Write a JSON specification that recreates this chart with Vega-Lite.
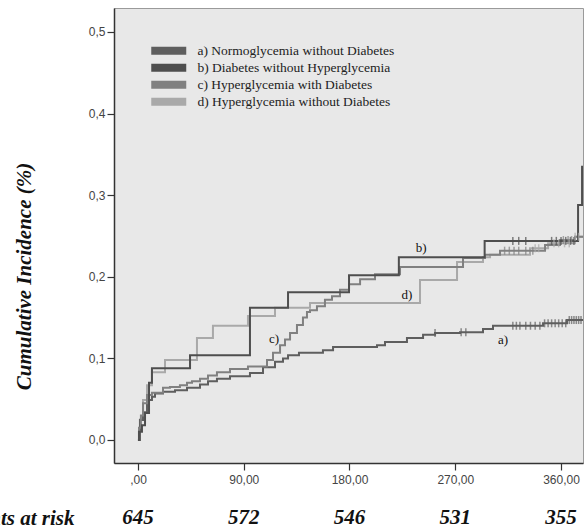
{
  "$schema": "https://vega.github.io/schema/vega-lite/v6.json",
  "autosize": "none",
  "width": 469,
  "height": 455,
  "padding": {"left": 114, "top": 8, "right": 1, "bottom": 67},
  "background": "white",
  "config": {
    "view": {"fill": "#e8e8e8", "stroke": "#9a9a9a", "strokeWidth": 1},
    "axis": {
      "labelFont": "Liberation Sans",
      "labelFontSize": 12,
      "labelColor": "#444444",
      "tickColor": "#333333",
      "domainColor": "#333333",
      "domainWidth": 1.5,
      "tickWidth": 1.2,
      "grid": false
    }
  },
  "datasets": {
    "groups": [
      {"g": "a", "group": "a) Normoglycemia without Diabetes"},
      {"g": "b", "group": "b) Diabetes without Hyperglycemia"},
      {"g": "c", "group": "c) Hyperglycemia with Diabetes"},
      {"g": "d", "group": "d) Hyperglycemia without Diabetes"}
    ],
    "curves": [
      {"g": "d", "day": 0, "p": 0}, {"g": "d", "day": 1.7, "p": 0.025}, {"g": "d", "day": 4.3, "p": 0.049}, {"g": "d", "day": 7.7, "p": 0.067}, {"g": "d", "day": 11.9, "p": 0.083}, {"g": "d", "day": 23, "p": 0.098}, {"g": "d", "day": 50.2, "p": 0.125}, {"g": "d", "day": 63.8, "p": 0.14}, {"g": "d", "day": 93.6, "p": 0.152}, {"g": "d", "day": 116.6, "p": 0.162}, {"g": "d", "day": 146.4, "p": 0.168}, {"g": "d", "day": 240, "p": 0.196}, {"g": "d", "day": 271.5, "p": 0.218}, {"g": "d", "day": 293.6, "p": 0.224}, {"g": "d", "day": 299.6, "p": 0.227}, {"g": "d", "day": 333.6, "p": 0.235}, {"g": "d", "day": 349, "p": 0.241}, {"g": "d", "day": 371.9, "p": 0.249}, {"g": "d", "day": 378.7, "p": 0.25},
      {"g": "a", "day": 0, "p": 0}, {"g": "a", "day": 1.7, "p": 0.0245}, {"g": "a", "day": 4.3, "p": 0.034}, {"g": "a", "day": 7.7, "p": 0.049}, {"g": "a", "day": 11.9, "p": 0.053}, {"g": "a", "day": 14.5, "p": 0.057}, {"g": "a", "day": 21.3, "p": 0.059}, {"g": "a", "day": 31.5, "p": 0.061}, {"g": "a", "day": 41.7, "p": 0.064}, {"g": "a", "day": 52.8, "p": 0.068}, {"g": "a", "day": 59.6, "p": 0.072}, {"g": "a", "day": 67.2, "p": 0.075}, {"g": "a", "day": 78.3, "p": 0.078}, {"g": "a", "day": 95.3, "p": 0.082}, {"g": "a", "day": 106.4, "p": 0.089}, {"g": "a", "day": 116.6, "p": 0.096}, {"g": "a", "day": 123.4, "p": 0.1}, {"g": "a", "day": 127.7, "p": 0.104}, {"g": "a", "day": 137, "p": 0.107}, {"g": "a", "day": 157.4, "p": 0.11}, {"g": "a", "day": 166, "p": 0.114}, {"g": "a", "day": 203.4, "p": 0.116}, {"g": "a", "day": 210.2, "p": 0.12}, {"g": "a", "day": 228.9, "p": 0.125}, {"g": "a", "day": 242.6, "p": 0.129}, {"g": "a", "day": 252.8, "p": 0.131}, {"g": "a", "day": 274, "p": 0.132}, {"g": "a", "day": 293.6, "p": 0.136}, {"g": "a", "day": 302.1, "p": 0.14}, {"g": "a", "day": 344.7, "p": 0.143}, {"g": "a", "day": 365.1, "p": 0.147}, {"g": "a", "day": 378.7, "p": 0.148},
      {"g": "c", "day": 0, "p": 0}, {"g": "c", "day": 0.9, "p": 0.015}, {"g": "c", "day": 2.5, "p": 0.03}, {"g": "c", "day": 4.3, "p": 0.045}, {"g": "c", "day": 7.7, "p": 0.055}, {"g": "c", "day": 11.9, "p": 0.058}, {"g": "c", "day": 21.3, "p": 0.064}, {"g": "c", "day": 27.2, "p": 0.065}, {"g": "c", "day": 35.7, "p": 0.067}, {"g": "c", "day": 41.7, "p": 0.07}, {"g": "c", "day": 46, "p": 0.072}, {"g": "c", "day": 52.8, "p": 0.075}, {"g": "c", "day": 59.6, "p": 0.079}, {"g": "c", "day": 67.2, "p": 0.083}, {"g": "c", "day": 78.3, "p": 0.087}, {"g": "c", "day": 93.6, "p": 0.09}, {"g": "c", "day": 109.8, "p": 0.098}, {"g": "c", "day": 114.9, "p": 0.107}, {"g": "c", "day": 120.9, "p": 0.116}, {"g": "c", "day": 125.1, "p": 0.123}, {"g": "c", "day": 129.4, "p": 0.131}, {"g": "c", "day": 135.3, "p": 0.141}, {"g": "c", "day": 140.4, "p": 0.15}, {"g": "c", "day": 143.8, "p": 0.157}, {"g": "c", "day": 146.4, "p": 0.159}, {"g": "c", "day": 152.3, "p": 0.164}, {"g": "c", "day": 159.1, "p": 0.172}, {"g": "c", "day": 165.1, "p": 0.176}, {"g": "c", "day": 171.9, "p": 0.184}, {"g": "c", "day": 179.6, "p": 0.191}, {"g": "c", "day": 189, "p": 0.197}, {"g": "c", "day": 201.7, "p": 0.203}, {"g": "c", "day": 223, "p": 0.212}, {"g": "c", "day": 276.6, "p": 0.223}, {"g": "c", "day": 295.3, "p": 0.227}, {"g": "c", "day": 308.1, "p": 0.232}, {"g": "c", "day": 346.4, "p": 0.239}, {"g": "c", "day": 359.1, "p": 0.245}, {"g": "c", "day": 371.9, "p": 0.249}, {"g": "c", "day": 378.7, "p": 0.25},
      {"g": "b", "day": 0, "p": 0}, {"g": "b", "day": 0.85, "p": 0.01}, {"g": "b", "day": 3.4, "p": 0.018}, {"g": "b", "day": 6, "p": 0.033}, {"g": "b", "day": 9.4, "p": 0.07}, {"g": "b", "day": 11.9, "p": 0.088}, {"g": "b", "day": 44.3, "p": 0.104}, {"g": "b", "day": 95.3, "p": 0.162}, {"g": "b", "day": 127.7, "p": 0.181}, {"g": "b", "day": 179.6, "p": 0.202}, {"g": "b", "day": 222, "p": 0.224}, {"g": "b", "day": 295, "p": 0.244}, {"g": "b", "day": 374.5, "p": 0.288}, {"g": "b", "day": 377.9, "p": 0.335}, {"g": "b", "day": 378.7, "p": 0.335}
    ],
    "censor": [
      {"g": "a", "day": 252.8, "p": 0.131}, {"g": "a", "day": 275, "p": 0.132}, {"g": "a", "day": 279, "p": 0.132}, {"g": "a", "day": 319, "p": 0.14}, {"g": "a", "day": 322, "p": 0.14}, {"g": "a", "day": 325, "p": 0.14}, {"g": "a", "day": 330, "p": 0.14}, {"g": "a", "day": 334, "p": 0.14}, {"g": "a", "day": 338, "p": 0.14}, {"g": "a", "day": 342, "p": 0.14}, {"g": "a", "day": 346, "p": 0.143}, {"g": "a", "day": 349, "p": 0.143}, {"g": "a", "day": 352, "p": 0.143}, {"g": "a", "day": 355, "p": 0.143}, {"g": "a", "day": 358, "p": 0.143}, {"g": "a", "day": 361, "p": 0.143}, {"g": "a", "day": 364, "p": 0.143}, {"g": "a", "day": 367, "p": 0.147}, {"g": "a", "day": 369, "p": 0.147}, {"g": "a", "day": 371, "p": 0.147}, {"g": "a", "day": 373, "p": 0.147}, {"g": "a", "day": 375, "p": 0.147}, {"g": "a", "day": 377, "p": 0.147},
      {"g": "b", "day": 319, "p": 0.244}, {"g": "b", "day": 324, "p": 0.244}, {"g": "b", "day": 330, "p": 0.244}, {"g": "b", "day": 352, "p": 0.244}, {"g": "b", "day": 356, "p": 0.244}, {"g": "b", "day": 360, "p": 0.244}, {"g": "b", "day": 364, "p": 0.244}, {"g": "b", "day": 368, "p": 0.244}, {"g": "b", "day": 371, "p": 0.244},
      {"g": "c", "day": 312, "p": 0.232}, {"g": "c", "day": 316, "p": 0.232}, {"g": "c", "day": 320, "p": 0.232}, {"g": "c", "day": 324, "p": 0.232}, {"g": "c", "day": 330, "p": 0.232}, {"g": "c", "day": 336, "p": 0.232}, {"g": "c", "day": 362, "p": 0.245}, {"g": "c", "day": 366, "p": 0.245}, {"g": "c", "day": 369, "p": 0.245},
      {"g": "d", "day": 338, "p": 0.235}, {"g": "d", "day": 341, "p": 0.235}, {"g": "d", "day": 354, "p": 0.241}, {"g": "d", "day": 358, "p": 0.241}, {"g": "d", "day": 363, "p": 0.241}, {"g": "d", "day": 367, "p": 0.241}, {"g": "d", "day": 372, "p": 0.249}, {"g": "d", "day": 375, "p": 0.249}
    ],
    "labels": [
      {"t": "a)", "day": 310.6, "p": 0.1225},
      {"t": "b)", "day": 240.9, "p": 0.235},
      {"t": "c)", "day": 115.7, "p": 0.124},
      {"t": "d)", "day": 228.9, "p": 0.178}
    ],
    "risk": [
      {"day": 0, "n": 645},
      {"day": 90, "n": 572},
      {"day": 180, "n": 546},
      {"day": 270, "n": 531},
      {"day": 360, "n": 355}
    ]
  },
  "layer": [
    {
      "data": {"name": "curves"},
      "transform": [{"lookup": "g", "from": {"data": {"name": "groups"}, "key": "g", "fields": ["group"]}}],
      "mark": {"type": "line", "interpolate": "step-after", "clip": true, "strokeWidth": 2},
      "encoding": {
        "x": {
          "field": "day", "type": "quantitative",
          "scale": {"domain": [-20.4, 378.7], "nice": false, "zero": false},
          "axis": {
            "values": [0, 90, 180, 270, 360],
            "labelExpr": "datum.value == 0 ? ',00' : replace(format(datum.value, '.2f'), '.', ',')",
            "tickSize": 7,
            "labelPadding": 4,
            "title": "Patients at risk",
            "titleFont": "Liberation Serif",
            "titleFontStyle": "italic",
            "titleFontWeight": "bold",
            "titleFontSize": 21,
            "titleColor": "#111111",
            "titleAlign": "right",
            "titleBaseline": "alphabetic",
            "titleX": -40,
            "titleY": 61
          }
        },
        "y": {
          "field": "p", "type": "quantitative",
          "scale": {"domain": [-0.0282, 0.5294], "nice": false, "zero": false},
          "axis": {
            "values": [0, 0.1, 0.2, 0.3, 0.4, 0.5],
            "labelExpr": "replace(format(datum.value, '.1f'), '.', ',')",
            "tickSize": 7,
            "labelPadding": 2,
            "title": "Cumulative Incidence (%)",
            "titleFont": "Liberation Serif",
            "titleFontStyle": "italic",
            "titleFontWeight": "bold",
            "titleFontSize": 21,
            "titleColor": "#111111",
            "titleAngle": -90,
            "titleAlign": "center",
            "titleBaseline": "middle",
            "titleX": -90,
            "titleY": 268
          }
        },
        "color": {
          "field": "group", "type": "nominal",
          "scale": {
            "domain": ["a) Normoglycemia without Diabetes", "b) Diabetes without Hyperglycemia", "c) Hyperglycemia with Diabetes", "d) Hyperglycemia without Diabetes"],
            "range": ["#5e5e5e", "#4e4e4e", "#808080", "#a9a9a9"]
          },
          "legend": {
            "orient": "none",
            "legendX": 48,
            "legendY": 36,
            "title": null,
            "symbolType": "M-3,-0.7H3V0.7H-3Z",
            "symbolSize": 136,
            "symbolStrokeWidth": 0,
            "labelFont": "Liberation Serif",
            "labelFontSize": 13.5,
            "labelColor": "#222222",
            "labelLimit": 0,
            "labelOffset": 22,
            "rowPadding": 2,
            "padding": 0,
            "encode": {"symbols": {"update": {"strokeWidth": {"value": 0}, "fill": {"scale": "color", "field": "value"}, "fillOpacity": {"value": 1}}}}
          }
        }
      }
    },
    {
      "data": {"name": "censor"},
      "transform": [{"lookup": "g", "from": {"data": {"name": "groups"}, "key": "g", "fields": ["group"]}}],
      "mark": {"type": "tick", "orient": "vertical", "size": 8, "thickness": 1.5, "clip": true},
      "encoding": {
        "x": {"field": "day", "type": "quantitative"},
        "y": {"field": "p", "type": "quantitative"},
        "color": {"field": "group", "type": "nominal", "legend": null}
      }
    },
    {
      "data": {"name": "labels"},
      "mark": {"type": "text", "font": "Liberation Serif", "fontSize": 13, "color": "#111111", "align": "center", "baseline": "middle"},
      "encoding": {
        "x": {"field": "day", "type": "quantitative"},
        "y": {"field": "p", "type": "quantitative"},
        "text": {"field": "t"}
      }
    },
    {
      "data": {"name": "risk"},
      "mark": {"type": "text", "font": "Liberation Serif", "fontSize": 21, "fontStyle": "italic", "fontWeight": "bold", "color": "#111111", "align": "center", "baseline": "alphabetic", "clip": false},
      "encoding": {
        "x": {"field": "day", "type": "quantitative"},
        "y": {"datum": -0.103},
        "text": {"field": "n"}
      }
    }
  ]
}
